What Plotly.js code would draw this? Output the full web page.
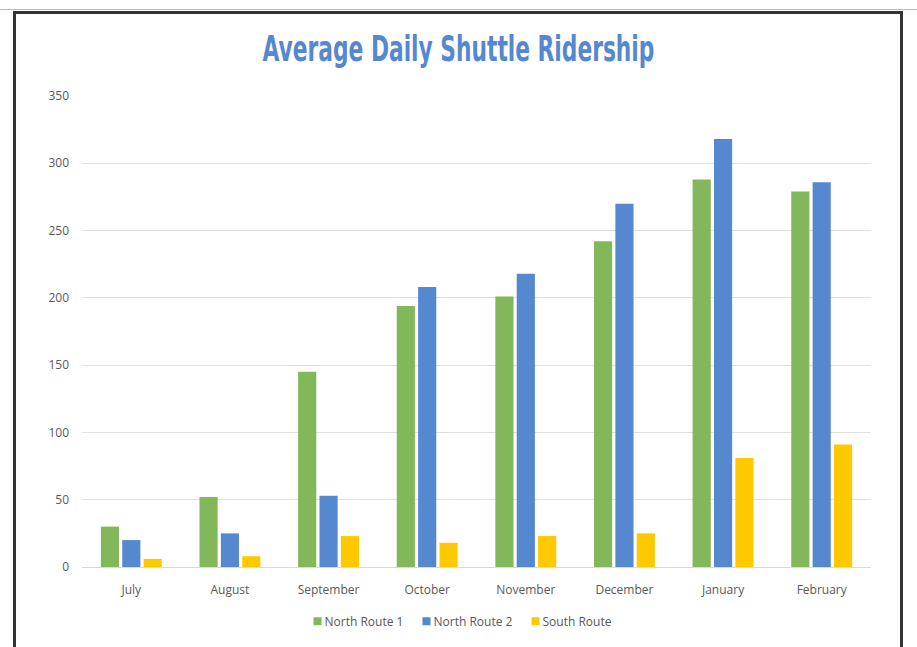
<!DOCTYPE html>
<html><head><meta charset="utf-8">
<script src="https://cdn.plot.ly/plotly-3.0.1.min.js"></script>
<style>
html,body{margin:0;padding:0;background:#fff;overflow:hidden;}
#chart{position:absolute;left:0;top:0;width:917px;height:647px;}
#frame{position:absolute;left:13px;top:11px;width:884px;height:700px;border:3px solid #333;pointer-events:none;}
#topline{position:absolute;left:0;top:9px;width:917px;height:1px;background:#bbb;}
</style></head>
<body>
<div id="chart"></div>
<div id="topline"></div>
<div id="frame"></div>
<script>
const months = ["July","August","September","October","November","December","January","February"];
const northRoute1 = [30, 52, 145, 194, 201, 242, 288, 279];
const northRoute2 = [20, 25, 53, 208, 218, 270, 318, 286];
const southRoute = [6, 8, 23, 18, 23, 25, 81, 91];
const seriesNames = ["North Route 1","North Route 2","South Route"];
const colors = ["#82B85A","#5588CF","#FFC900"];
const yTicks = [0,50,100,150,200,250,300,350];

const data = [northRoute1, northRoute2, southRoute].map((vals,i)=>({
  type:'bar', x:months, y:vals, name:seriesNames[i],
  marker:{color:colors[i], line:{width:0}},
  hoverinfo:'skip'
}));

const layout = {
  width:917, height:647,
  margin:{l:82, r:46, t:96, b:80, autoexpand:false},
  paper_bgcolor:'#fff', plot_bgcolor:'#fff',
  title:{text:'Average Daily Shuttle Ridership', xref:'container', x:0.5, xanchor:'center',
    yref:'container', y:1-48/647, yanchor:'middle',
    font:{family:'"DejaVu Sans Condensed", "DejaVu Sans", sans-serif', size:36, color:'#5588CF', weight:700}},
  barmode:'group', bargap:0.35, bargroupgap:0.15,
  xaxis:{showgrid:false, showline:false, zeroline:false, ticks:'', tickangle:0, automargin:false,
    ticklabelstandoff:14,
    tickfont:{family:'"Open Sans", sans-serif', size:12, color:'#595959'}},
  yaxis:{range:[0,350], tickvals:yTicks, ticktext:yTicks.map(String), automargin:false,
    showgrid:true, gridcolor:'#e0e0e0', gridwidth:1, zeroline:true, zerolinecolor:'#d9d9d9',
    showline:false, ticks:'', ticklabelstandoff:12,
    tickfont:{family:'"Open Sans", sans-serif', size:12, color:'#595959'}},
  showlegend:true,
  legend:{orientation:'h', x:(448-82)/789, xanchor:'center', y:-0.115, yanchor:'middle',
    entrywidth:64, entrywidthmode:'pixels',
    font:{family:'"Open Sans", sans-serif', size:12, color:'#595959'}, traceorder:'normal'}
};
Plotly.newPlot('chart', data, layout, {displayModeBar:false, staticPlot:true}).then(()=>{
  const t = document.querySelector('#chart .gtitle');
  if (t) {
    const bb = t.getBBox();
    const k = 392 / bb.width;
    const cx = bb.x + bb.width/2;
    t.setAttribute('transform', `translate(${cx},0) scale(${k},1) translate(${-cx},0)`);
  }
  document.querySelectorAll('#chart .legend .legendpoints').forEach(g=>{
    g.setAttribute('transform','translate(13,0)');
    g.querySelectorAll('path').forEach(p=>p.setAttribute('d','M4,4H-4V-4H4Z'));
  });
});
</script>
</body></html>
